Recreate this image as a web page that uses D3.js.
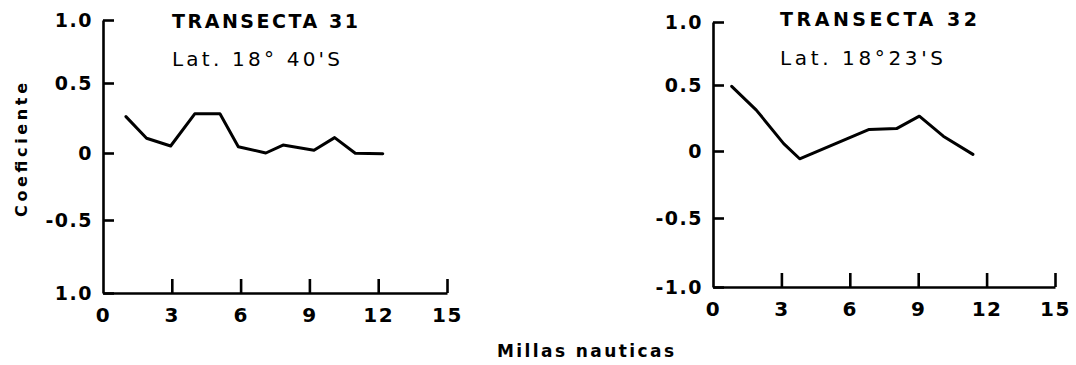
<!DOCTYPE html>
<html>
<head>
<meta charset="utf-8">
<script src="https://cdn.jsdelivr.net/npm/d3@7"></script>
<style>
  html, body { margin: 0; padding: 0; background: #fff; }
  svg { display: block; }
  text { font-family: "DejaVu Sans", sans-serif; fill: #000; }
</style>
</head>
<body>
<svg id="chart" width="1076" height="365"></svg>
<script>
// ---- Data ----
const xTicks = [0, 3, 6, 9, 12, 15];
const yTicks = [1, 0.5, 0, -0.5, -1];
const yLabelsLeft = ["1.0", "0.5", "0", "-0.5", "1.0"];
const yLabelsRight = ["1.0", "0.5", "0", "-0.5", "-1.0"];

const t31Miles = [1.0, 1.9, 2.95, 4.0, 5.1, 5.9, 7.1, 7.85, 9.2, 10.1, 11.0, 12.2];
const t31Coef  = [0.26, 0.105, 0.05, 0.28, 0.28, 0.045, 0.0, 0.057, 0.02, 0.11, -0.002, -0.005];

const t32Miles = [0.82, 1.9, 3.1, 3.8, 6.85, 8.05, 9.05, 10.1, 11.4];
const t32Coef  = [0.49, 0.31, 0.056, -0.058, 0.163, 0.17, 0.264, 0.112, -0.025];

const titles = ["TRANSECTA 31", "TRANSECTA 32"];
const subtitles = ["Lat. 18\u00B0 40'S", "Lat. 18\u00B023'S"];
const yTitle = "Coeficiente";
const xTitle = "Millas nauticas";

// ---- Layout ----
const svg = d3.select("#chart");

const panels = [
  {
    miles: t31Miles, coef: t31Coef, yLabels: yLabelsLeft,
    xRange: [103, 447], yStops: [293, 220, 153, 83, 20],
    title: titles[0], sub: subtitles[0],
    titlePos: [172, 28, 186], subPos: [172, 66, 168]
  },
  {
    miles: t32Miles, coef: t32Coef, yLabels: yLabelsRight,
    xRange: [713, 1055], yStops: [287, 218, 151, 85, 22],
    title: titles[1], sub: subtitles[1],
    titlePos: [780, 26, 197], subPos: [780, 65, 163]
  }
];

panels.forEach(p => {
  const x = d3.scaleLinear().domain([0, 15]).range(p.xRange);
  const y = d3.scaleLinear().domain([-1, -0.5, 0, 0.5, 1]).range(p.yStops);

  // Y axis
  const yAxis = d3.axisLeft(y)
    .tickValues(yTicks)
    .tickFormat((d, i) => p.yLabels[i])
    .tickSize(-11)
    .tickSizeOuter(0)
    .tickPadding(10);
  const gy = svg.append("g")
    .attr("transform", `translate(${x(0)},0)`)
    .call(yAxis);
  gy.selectAll("path.domain").attr("stroke", "#000").attr("stroke-width", 2.6);
  gy.selectAll(".tick line").attr("stroke", "#000").attr("stroke-width", 2.6);
  gy.selectAll(".tick text")
    .style("font-size", "19px").style("font-weight", "bold")
    .style("letter-spacing", "1.5px");

  // X axis
  const xAxis = d3.axisBottom(x)
    .tickValues(xTicks)
    .tickFormat(d3.format("d"))
    .tickSize(-14)
    .tickSizeOuter(0)
    .tickPadding(15);
  const gx = svg.append("g")
    .attr("transform", `translate(0,${y(-1)})`)
    .call(xAxis);
  gx.selectAll("path.domain").attr("stroke", "#000").attr("stroke-width", 2.6);
  gx.selectAll(".tick line").attr("stroke", "#000").attr("stroke-width", 2.6)
    .attr("opacity", d => d === 0 ? 0 : 1);
  gx.selectAll(".tick text")
    .style("font-size", "20px").style("font-weight", "bold")
    .style("letter-spacing", "1.5px");

  // Data line
  const pts = p.miles.map((m, i) => [m, p.coef[i]]);
  svg.append("path")
    .datum(pts)
    .attr("fill", "none")
    .attr("stroke", "#000")
    .attr("stroke-width", 3)
    .attr("stroke-linejoin", "round")
    .attr("stroke-linecap", "round")
    .attr("d", d3.line().x(d => x(d[0])).y(d => y(d[1])));

  // Titles
  svg.append("text")
    .attr("x", p.titlePos[0]).attr("y", p.titlePos[1])
    .attr("textLength", p.titlePos[2]).attr("lengthAdjust", "spacing")
    .style("font-size", "19px").style("font-weight", "bold")
    .text(p.title);
  svg.append("text")
    .attr("x", p.subPos[0]).attr("y", p.subPos[1])
    .attr("textLength", p.subPos[2]).attr("lengthAdjust", "spacing")
    .style("font-size", "20px")
    .text(p.sub);
});

// Axis titles
svg.append("text")
  .attr("transform", "translate(27,150) rotate(-90)")
  .attr("text-anchor", "middle")
  .attr("textLength", 134).attr("lengthAdjust", "spacing")
  .style("font-size", "16px").style("font-weight", "bold")
  .text(yTitle);

svg.append("text")
  .attr("x", 497).attr("y", 357)
  .attr("textLength", 177).attr("lengthAdjust", "spacing")
  .style("font-size", "17px").style("font-weight", "bold")
  .text(xTitle);
</script>
</body>
</html>
